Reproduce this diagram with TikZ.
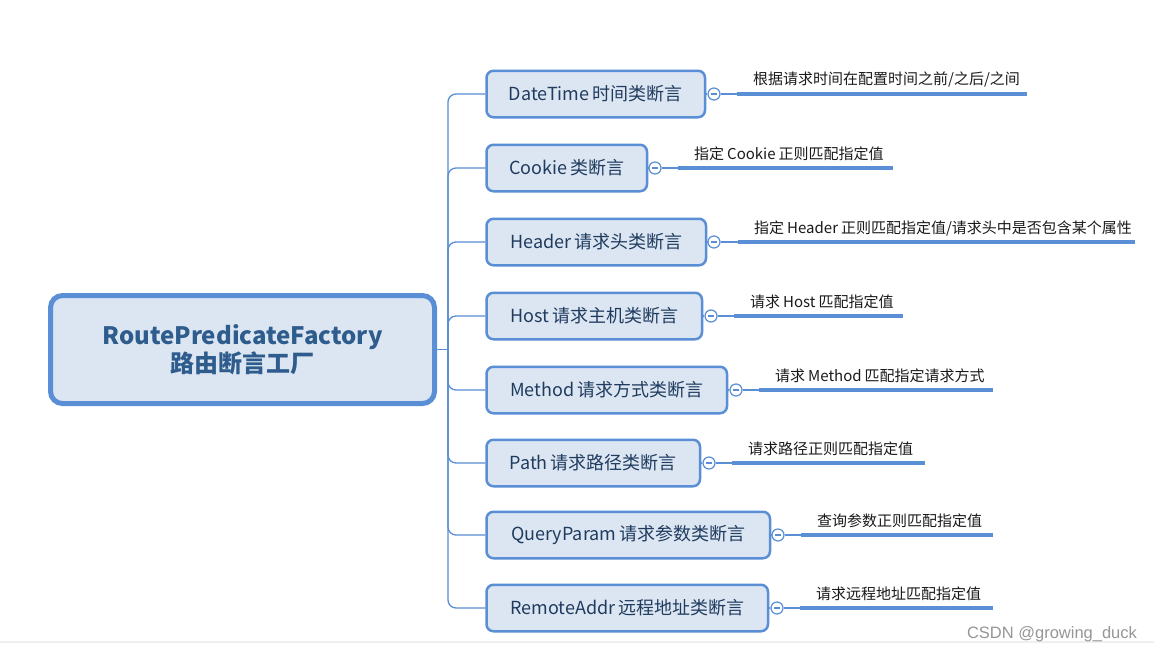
\documentclass[tikz,border=0pt]{standalone}
\usepackage{fontspec}
\setmainfont{Noto Sans CJK SC}
\newfontfamily\wmfont{Liberation Sans}
\newcommand\gp{\hspace{3pt}}
\definecolor{edge}{HTML}{5A8ED5}
\definecolor{boxfill}{HTML}{DCE6F2}
\definecolor{boxtext}{HTML}{1F3B5E}
\definecolor{roottext}{HTML}{2E5C8C}
\definecolor{labeltext}{HTML}{1A1A1A}
\begin{document}
\begin{tikzpicture}[x=1pt,y=-1pt,
  rootbox/.style={draw=edge,line width=5pt,fill=boxfill,rounded corners=12pt,
    minimum width=384pt,minimum height=108pt,align=center,text=roottext,
    font=\fontsize{24}{28}\selectfont\bfseries,inner sep=0pt},
  childbox/.style={draw=edge,line width=2.5pt,fill=boxfill,rounded corners=7pt,
    minimum height=46.5pt,anchor=west,text=boxtext,font=\fontsize{18}{20}\selectfont,inner sep=0pt},
  conn/.style={draw=edge,line width=1.3pt},
  knob/.style={circle,draw=edge,line width=1.2pt,fill=white,minimum size=12pt,inner sep=0pt},
  underline/.style={draw=edge,line width=4pt},
  labeltxt/.style={anchor=west,text=labeltext,font=\fontsize{15}{17}\selectfont,inner sep=0pt}]
\useasboundingbox (0,0) rectangle (1154,654);
\fill[white] (0,0) rectangle (1154,654);
\draw[color={rgb,255:red,239;green,239;blue,239},line width=2pt] (0,642) -- (1154,642);

\node[rootbox] (root) at (242.5,349.5) {RoutePredicateFactory\\路由断言工厂};
\coordinate (t) at (448,349.5);
\draw[conn] (root.east) -- (t);

\foreach \i/\y/\r/\cx/\us/\ue/\bt/\lt in {
  1/94/705/714/737/1027/{DateTime\gp 时间类断言}/{根据请求时间在配置时间之前/之后/之间},
  2/168/647/655/678/893/{Cookie\gp 类断言}/{指定\gp Cookie\gp 正则匹配指定值},
  3/242/706/714/738/1135/{Header\gp 请求头类断言}/{指定\gp Header\gp 正则匹配指定值/请求头中是否包含某个属性},
  4/316/702/711/734/903/{Host\gp 请求主机类断言}/{请求\gp Host\gp 匹配指定值},
  5/390/727/736/759/993/{Method\gp 请求方式类断言}/{请求\gp Method\gp 匹配指定请求方式},
  6/463/700/709/732/925/{Path\gp 请求路径类断言}/{请求路径正则匹配指定值},
  7/535/770/778/801/993/{QueryParam\gp 请求参数类断言}/{查询参数正则匹配指定值},
  8/608/768/777/800/993/{RemoteAddr\gp 远程地址类断言}/{请求远程地址匹配指定值}}{
  \pgfmathsetmacro{\w}{\r-484-2.5}
  \node[childbox,minimum width=\w pt] (b\i) at (485.25,\y) {\bt};
  \draw[conn,rounded corners=8pt] (t) |- (b\i.west);
  \node[knob] (k\i) at (\cx,\y) {};
  \draw[edge,line width=1.3pt] (\cx-3,\y) -- (\cx+3,\y);
  \coordinate (us\i) at (\us,\y);
  \coordinate (ue\i) at (\ue,\y);
  \draw[conn] (b\i.east) -- (k\i.west);
  \draw[conn] (k\i.east) -- (us\i);
  \draw[underline] (us\i) -- (ue\i);
  \node[labeltxt] (l\i) at (\us+16,\y-14) {\lt};
}

\node[text={rgb,255:red,150;green,150;blue,150},font=\wmfont\fontsize{16.5}{18}\selectfont,inner sep=0pt] (wm) at (1052,634) {CSDN @growing\_duck};
\end{tikzpicture}
\end{document}
